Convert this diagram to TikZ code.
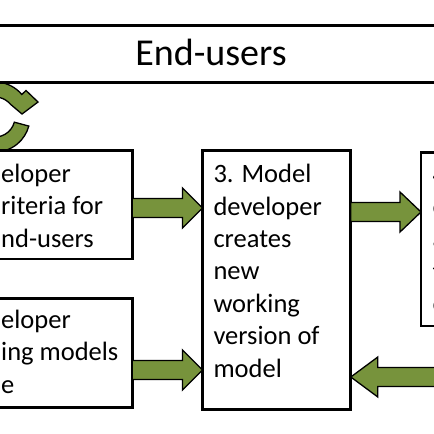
\documentclass[tikz,border=0pt]{standalone}
\usepackage{fontspec}
\setmainfont{Carlito}
\usetikzlibrary{calc}
\definecolor{olivegreen}{HTML}{77933C}
\tikzset{
  boxnode/.style={draw=black, line width=2.8pt, fill=white, rectangle, inner sep=0pt, outer sep=0pt},
  boxtext/.style={anchor=base west, inner sep=0pt, align=left, font=\fontsize{26.5}{32.4}\selectfont},
  garrow/.style={fill=olivegreen, draw=black, line width=1.3pt, line join=miter},
}
\newcommand\blockarrow[3]{%
  \filldraw[garrow] ($(#1)+(0,-9.5)$) -- ($(#2)+(#3,-9.5)$) -- ($(#2)+(#3,-20)$) -- (#2)
    -- ($(#2)+(#3,20)$) -- ($(#2)+(#3,9.5)$) -- ($(#1)+(0,9.5)$) -- cycle;}
\begin{document}
\begin{tikzpicture}[x=1pt,y=-1pt]
\useasboundingbox (0,0) rectangle (434,434);
\clip (0,0) rectangle (434,434);
\fill[white] (0,0) rectangle (434,434);

% circular arrow (top left)
\coordinate (cc) at (-5,117);
\filldraw[garrow] ($(cc)+(-40:35)$) arc[start angle=-40, end angle=-345, radius=35]
  -- ($(cc)+(15:20)$) arc[start angle=-345, end angle=-40, radius=20]
  -- (22,114) -- (38,102) -- (26,90.5) -- cycle;

% End-users band
\node[draw=black, line width=3pt, minimum width=520pt, minimum height=56.7pt, inner sep=0pt, outer sep=0pt] (eu) at (217,53.65) {};
\node[anchor=base, inner sep=0pt, font=\fontsize{38}{45}\selectfont] (eut) at (211,65) {End-users};

% boxes
\node[boxnode, minimum width=152.2pt, minimum height=108.3pt] (b1) at (56.1,204.85) {};
\node[boxnode, minimum width=148.3pt, minimum height=259pt] (b3) at (276.65,280.3) {};
\node[boxnode, minimum width=152.2pt, minimum height=108.9pt] (b4) at (56.1,353.25) {};
\node[boxnode, minimum width=99pt, minimum height=173.5pt] (b5) at (470.5,239.25) {};

% texts (anchor = baseline of last line)
\node[boxtext] (t1) at (1,247.3) {eloper\\riteria for\\nd-users};
\node[boxtext] (t3) at (213.3,377.1) {3. Model\\developer\\creates\\new\\working\\version of\\model};
\node[boxtext] (t4) at (1,393.3) {eloper\\ing models\\e};
\node[boxtext] (t5) at (432.3,312.6) {4\\o\\a\\t\\o};

% block arrows
\coordinate (yA) at (0,208);
\coordinate (yB) at (0,212);
\coordinate (yC) at (0,370);
\coordinate (yD) at (0,377);
\coordinate (tailD) at (445,377);
\blockarrow{b1.east |- yA}{b3.west |- yA}{-20}
\blockarrow{b3.east |- yB}{b5.west |- yB}{-21}
\blockarrow{b4.east |- yC}{b3.west |- yC}{-20}
\blockarrow{tailD}{b3.east |- yD}{27}
\end{tikzpicture}
\end{document}
